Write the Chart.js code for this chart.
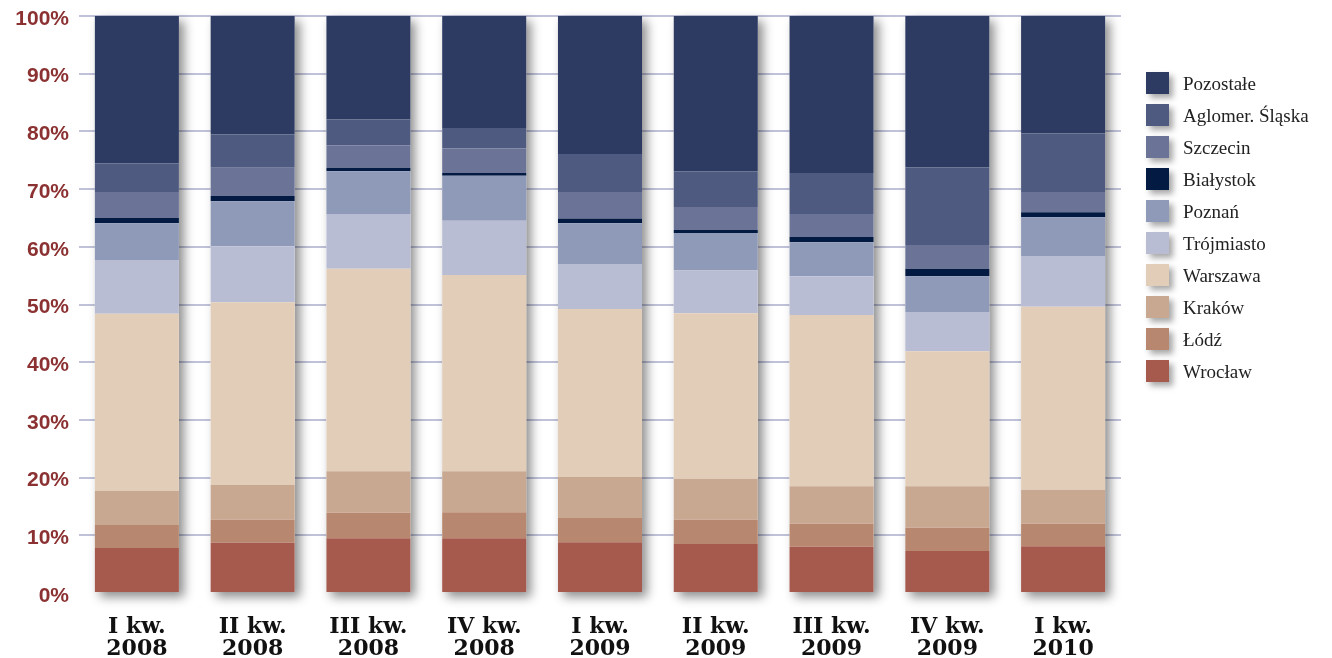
<!DOCTYPE html>
<html>
<head>
<meta charset="utf-8">
<script src="https://cdn.jsdelivr.net/npm/chart.js@4/dist/chart.umd.min.js"></script>
<style>
  body { margin: 0; background: #fff; }
  #wrap { position: relative; width: 1332px; height: 658px; }
  #legend { position: absolute; left: 1146px; top: 72px; font-family: "Liberation Serif", serif; font-size: 19px; color: #222; }
  .item { position: relative; height: 32px; }
  .box { position: absolute; left: 0; top: 0; width: 23px; height: 22px; box-shadow: 4px 4px 6px rgba(0,0,0,0.35); }
  .lbl { position: absolute; left: 37px; top: 1px; line-height: 22px; white-space: nowrap; }
</style>
</head>
<body>
<div id="wrap">
  <canvas id="chart"></canvas>
  <div id="legend"></div>
</div>
<script>
// quarters
const labels = [
    ["I kw.", "2008"], ["II kw.", "2008"], ["III kw.", "2008"], ["IV kw.", "2008"],
    ["I kw.", "2009"], ["II kw.", "2009"], ["III kw.", "2009"], ["IV kw.", "2009"],
    ["I kw.", "2010"]
];

// shares in %, bottom of the stack first
const wroclaw     = [7.8, 8.7, 9.5, 9.5, 8.8, 8.5, 8.0, 7.3, 8.1];
const lodz        = [4.0, 4.0, 4.4, 4.5, 4.2, 4.2, 4.0, 4.0, 3.9];
const krakow      = [5.9, 6.0, 7.2, 7.1, 7.1, 7.1, 6.5, 7.2, 5.9];
const warszawa    = [30.7, 31.7, 35.1, 34.0, 29.1, 28.7, 29.7, 23.4, 31.7];
const trojmiasto  = [9.3, 9.7, 9.5, 9.4, 7.8, 7.4, 6.7, 6.8, 8.8];
const poznan      = [6.4, 7.8, 7.4, 7.8, 7.1, 6.5, 5.9, 6.2, 6.7];
const bialystok   = [0.9, 0.9, 0.6, 0.5, 0.8, 0.5, 0.9, 1.3, 0.9];
const szczecin    = [4.5, 4.9, 3.9, 4.3, 4.6, 4.0, 4.0, 4.1, 3.5];
const aglomeracja = [5.0, 5.8, 4.5, 3.5, 6.6, 6.2, 7.1, 13.5, 10.2];
const pozostale   = [25.5, 20.5, 17.9, 19.4, 23.9, 26.9, 27.2, 26.2, 20.3];

const yTicks = [0, 10, 20, 30, 40, 50, 60, 70, 80, 90, 100];

const series = [
    { label: "Wrocław", data: wroclaw, color: "#a65a4e" },
    { label: "Łódź", data: lodz, color: "#b8876f" },
    { label: "Kraków", data: krakow, color: "#c8a891" },
    { label: "Warszawa", data: warszawa, color: "#e2cdb9" },
    { label: "Trójmiasto", data: trojmiasto, color: "#b8bdd4" },
    { label: "Poznań", data: poznan, color: "#8f99b8" },
    { label: "Białystok", data: bialystok, color: "#031a42" },
    { label: "Szczecin", data: szczecin, color: "#6b7397" },
    { label: "Aglomer. Śląska", data: aglomeracja, color: "#4e5a80" },
    { label: "Pozostałe", data: pozostale, color: "#2d3a62" }
];

// drop shadow behind each whole stack
const stackShadow = {
    id: "stackShadow",
    beforeDatasetsDraw(chart) {
        const first = chart.getDatasetMeta(0).data;
        const last = chart.getDatasetMeta(chart.data.datasets.length - 1).data;
        const ctx = chart.ctx;
        ctx.save();
        ctx.shadowColor = "rgba(0,0,0,0.45)";
        ctx.shadowBlur = 10;
        ctx.shadowOffsetX = 5;
        ctx.shadowOffsetY = 5;
        ctx.fillStyle = "#ffffff";
        first.forEach((el, i) => {
            const top = last[i].y;
            ctx.fillRect(el.x - el.width / 2, top, el.width, el.base - top);
        });
        ctx.restore();
    }
};

new Chart(document.getElementById("chart"), {
    type: "bar",
    data: {
        labels: labels,
        datasets: series.map(s => ({
            label: s.label,
            data: s.data,
            backgroundColor: s.color,
            borderWidth: 0,
            barPercentage: 0.726,
            categoryPercentage: 1.0
        }))
    },
    options: {
        responsive: true,
        maintainAspectRatio: false,
        animation: false,
        layout: { padding: { top: 16, right: 211, left: 0, bottom: 0 } },
        plugins: { legend: { display: false }, tooltip: { enabled: false } },
        scales: {
            x: {
                stacked: true,
                grid: { display: false },
                border: { display: false },
                ticks: {
                    color: "#111",
                    padding: 15,
                    maxRotation: 0,
                    font: { family: "DejaVu Serif", weight: "bold", size: 22, lineHeight: 1.02 }
                },
                afterFit(scale) { scale.height = 65; }
            },
            y: {
                stacked: true,
                min: 0,
                max: 100,
                afterBuildTicks(scale) { scale.ticks = yTicks.map(v => ({ value: v })); },
                grid: {
                    color: ctx => (ctx.tick && ctx.tick.value === 0) ? "rgba(0,0,0,0)" : "#bfc2d9",
                    lineWidth: 2,
                    drawTicks: false
                },
                border: { display: false },
                ticks: {
                    color: "#8b3132",
                    padding: 10,
                    labelOffset: 3,
                    font: { family: "Liberation Sans", weight: "bold", size: 21 },
                    callback: v => v + "%"
                },
                afterFit(scale) {
                    scale.width = 79;
                    scale.paddingTop = 0;
                    scale.paddingBottom = 0;
                }
            }
        }
    },
    plugins: [stackShadow]
});

// legend, top item = top of the stack
const legend = document.getElementById("legend");
series.slice().reverse().forEach(s => {
    const item = document.createElement("div");
    item.className = "item";
    item.innerHTML = '<div class="box" style="background:' + s.color + '"></div><div class="lbl">' + s.label + '</div>';
    legend.appendChild(item);
});
</script>
</body>
</html>
